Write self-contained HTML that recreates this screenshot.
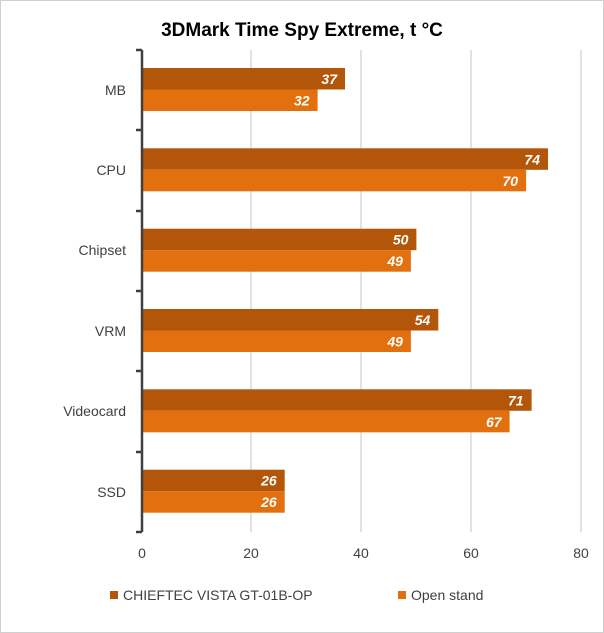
<!DOCTYPE html>
<html><head><style>
body{margin:0;background:#fff}
svg{display:block;font-family:"Liberation Sans",sans-serif}
</style></head><body>
<svg width="604" height="633" viewBox="0 0 604 633">
<rect x="0.5" y="0.5" width="603" height="632" fill="#fff" stroke="#d0d0d0"/>
<text x="302" y="36" text-anchor="middle" font-size="19" font-weight="bold" fill="#000">3DMark Time Spy Extreme, t °C</text>
<g stroke="#d9d9d9" stroke-width="1.5">
<line x1="251" y1="50" x2="251" y2="532"/>
<line x1="361" y1="50" x2="361" y2="532"/>
<line x1="471" y1="50" x2="471" y2="532"/>
<line x1="581" y1="50" x2="581" y2="532"/>
</g>
<g>
<rect x="142" y="68" width="203" height="21.5" fill="#b4560a"/>
<rect x="142" y="89.5" width="175.6" height="21.5" fill="#e2700e"/>
<rect x="142" y="148.3" width="406" height="21.5" fill="#b4560a"/>
<rect x="142" y="169.8" width="384.1" height="21.5" fill="#e2700e"/>
<rect x="142" y="228.7" width="274.4" height="21.5" fill="#b4560a"/>
<rect x="142" y="250.2" width="268.9" height="21.5" fill="#e2700e"/>
<rect x="142" y="309" width="296.3" height="21.5" fill="#b4560a"/>
<rect x="142" y="330.5" width="268.9" height="21.5" fill="#e2700e"/>
<rect x="142" y="389.3" width="389.6" height="21.5" fill="#b4560a"/>
<rect x="142" y="410.8" width="367.6" height="21.5" fill="#e2700e"/>
<rect x="142" y="469.7" width="142.7" height="21.5" fill="#b4560a"/>
<rect x="142" y="491.2" width="142.7" height="21.5" fill="#e2700e"/>
</g>
<g font-size="14" font-weight="bold" font-style="italic" fill="#fff" text-anchor="end">
<text x="337" y="84">37</text>
<text x="309.6" y="105.5">32</text>
<text x="540" y="164.3">74</text>
<text x="518.1" y="185.8">70</text>
<text x="408.4" y="244.7">50</text>
<text x="402.9" y="266.2">49</text>
<text x="430.3" y="325">54</text>
<text x="402.9" y="346.5">49</text>
<text x="523.6" y="405.3">71</text>
<text x="501.6" y="426.8">67</text>
<text x="276.7" y="485.7">26</text>
<text x="276.7" y="507.2">26</text>
</g>
<g stroke="#404040" stroke-width="2.5">
<line x1="142" y1="50" x2="142" y2="532"/>
<line x1="136" y1="50" x2="142" y2="50"/>
<line x1="136" y1="130" x2="142" y2="130"/>
<line x1="136" y1="211" x2="142" y2="211"/>
<line x1="136" y1="291" x2="142" y2="291"/>
<line x1="136" y1="371" x2="142" y2="371"/>
<line x1="136" y1="452" x2="142" y2="452"/>
<line x1="136" y1="532" x2="142" y2="532"/>
</g>
<g font-size="14" fill="#404040" text-anchor="end">
<text x="126" y="95">MB</text>
<text x="126" y="175">CPU</text>
<text x="126" y="255">Chipset</text>
<text x="126" y="336">VRM</text>
<text x="126" y="416">Videocard</text>
<text x="126" y="497">SSD</text>
</g>
<g font-size="14" fill="#404040" text-anchor="middle">
<text x="142" y="558">0</text>
<text x="251" y="558">20</text>
<text x="361" y="558">40</text>
<text x="471" y="558">60</text>
<text x="581" y="558">80</text>
</g>
<rect x="110" y="591" width="8" height="8" fill="#b4560a"/>
<text x="123" y="600" font-size="14" fill="#404040">CHIEFTEC VISTA GT-01B-OP</text>
<rect x="398" y="591" width="8" height="8" fill="#e2700e"/>
<text x="411" y="600" font-size="14" fill="#404040">Open stand</text>
</svg>
</body></html>
